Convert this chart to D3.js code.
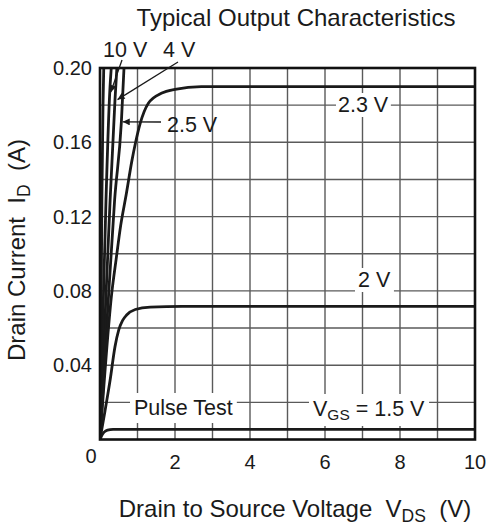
<!DOCTYPE html>
<html><head><meta charset="utf-8">
<script src="https://cdn.jsdelivr.net/npm/d3@7"></script>
<style>
body{margin:0;background:#fff}
text{font-family:"Liberation Sans",Arial,Helvetica,sans-serif;fill:#1a1a1a}
</style>
</head><body>
<svg id="chart" width="488" height="526"></svg>
<script>
// ---------- data ----------
const chartTitle = "Typical Output Characteristics";
const xTickValues = [0, 2, 4, 6, 8, 10];
const xTickLabels = ["0", "2", "4", "6", "8", "10"];
const yTickValues = [0.04, 0.08, 0.12, 0.16, 0.20];
const yTickLabels = ["0.04", "0.08", "0.12", "0.16", "0.20"];

// V_DS (V), I_D (A) pairs per gate voltage
const curveVgs1_5 = [[0,0],[0.04,0.0018],[0.08,0.0032],[0.13,0.0043],[0.2,0.005],[0.35,0.0054],[0.7,0.0055],[10,0.0055]];
const curveVgs2   = [[0,0],[0.13,0.015],[0.27,0.032],[0.4,0.050],[0.5,0.059],[0.6,0.064],[0.71,0.067],[0.94,0.0700],[1.34,0.0713],[2.2,0.0717],[10,0.0717]];
const curveVgs2_3 = [[0,0],[0.32,0.080],[0.43,0.097],[0.55,0.115],[0.7,0.132],[0.85,0.150],[0.95,0.160],[1.07,0.170],[1.29,0.181],[1.65,0.1865],[2.0,0.1885],[2.7,0.1900],[10,0.1900]];
const curveVgs2_5 = [[0,0],[0.2,0.068],[0.39,0.129],[0.57,0.171],[0.64,0.2]];
const curveVgs4   = [[0,0],[0.14,0.068],[0.27,0.129],[0.40,0.183],[0.45,0.2]];
const curveVgs10  = [[0,0],[0.08,0.068],[0.16,0.129],[0.26,0.187],[0.3,0.2]];
const curveVgsMax = [[0,0],[0.03,0.068],[0.05,0.129],[0.08,0.18],[0.1,0.2]];

const curves = [curveVgs1_5, curveVgs2, curveVgs2_3, curveVgs2_5, curveVgs4, curveVgs10, curveVgsMax];

// ---------- layout ----------
const svg = d3.select("#chart");
const L = 100, R = 475, T = 68, B = 439.5;
const x = d3.scaleLinear().domain([0, 10]).range([L, R]);
const y = d3.scaleLinear().domain([0, 0.2]).range([B, T]);

svg.append("rect").attr("width", 488).attr("height", 526).attr("fill", "#fff");

// grid
const grid = svg.append("g").attr("stroke", "#5a5a5a").attr("stroke-width", 1.4);
grid.selectAll("line.v").data(d3.range(1, 10)).join("line")
  .attr("x1", d => x(d)).attr("x2", d => x(d)).attr("y1", T).attr("y2", B);
grid.selectAll("line.h").data(d3.range(1, 10).map(i => i * 0.02)).join("line")
  .attr("y1", d => y(d)).attr("y2", d => y(d)).attr("x1", L).attr("x2", R);

// annotations with white backing
const labelFont = 21.5;
function label(txt, px, py, parts) {
  const t = svg.append("text").attr("x", px).attr("y", py).attr("font-size", labelFont);
  if (parts) {
    parts.forEach(p => {
      const s = t.append("tspan").text(p.t);
      if (p.sub) s.attr("font-size", labelFont * 0.72).attr("dy", 4);
      if (p.up) s.attr("dy", -4);
    });
  } else t.text(txt);
  return t;
}
function backed(t, padX, padY) {
  const bb = t.node().getBBox();
  svg.insert("rect", function(){ return t.node(); })
    .attr("x", bb.x - padX).attr("y", bb.y - padY)
    .attr("width", bb.width + 2 * padX).attr("height", bb.height + 2 * padY)
    .attr("fill", "#fff");
}

// curves
const clip = svg.append("clipPath").attr("id", "plotclip");
clip.append("rect").attr("x", L).attr("y", T).attr("width", R - L).attr("height", B - T);
const line = d3.line().x(d => x(d[0])).y(d => y(d[1])).curve(d3.curveMonotoneX);
svg.append("g").attr("clip-path", "url(#plotclip)")
  .selectAll("path").data(curves).join("path")
  .attr("d", line).attr("fill", "none").attr("stroke", "#1a1a1a")
  .attr("stroke-width", 2.8).attr("stroke-linejoin", "round");

const tPulse = label("Pulse Test", 134, 415);
backed(tPulse, 4, 3);
const tVgs = label(null, 313, 416, [{t:"V"},{t:"GS",sub:true},{t:" = 1.5 V",up:true}]);
backed(tVgs, 4, 3);
const t23 = label("2.3 V", 338, 112);
backed(t23, 2, 0);
const t2 = label("2 V", 358, 287);
backed(t2, 3, 0);
label("2.5 V", 167, 132);
label("10 V", 103, 57);
label("4 V", 163, 57);

// border
svg.append("rect").attr("x", L).attr("y", T).attr("width", R - L).attr("height", B - T)
  .attr("fill", "none").attr("stroke", "#111").attr("stroke-width", 2.6);

// arrows
const defs = svg.append("defs");
defs.append("marker").attr("id", "ah").attr("viewBox", "0 0 10 10")
  .attr("refX", 10).attr("refY", 5).attr("markerWidth", 9).attr("markerHeight", 7)
  .attr("markerUnits", "userSpaceOnUse").attr("orient", "auto")
  .append("path").attr("d", "M0,0 L10,5 L0,10 z").attr("fill", "#1a1a1a");
const arrows = [
  {x1: 122, y1: 60, tx: 0.26, ty: 0.187},
  {x1: 178, y1: 62, tx: 0.44, ty: 0.183},
  {x1: 161, y1: 122, tx: 0.58, ty: 0.171}
];
svg.selectAll("line.arr").data(arrows).join("line")
  .attr("x1", d => d.x1).attr("y1", d => d.y1)
  .attr("x2", d => x(d.tx) + 1).attr("y2", d => y(d.ty))
  .attr("stroke", "#1a1a1a").attr("stroke-width", 1.3).attr("marker-end", "url(#ah)");

// tick labels
svg.selectAll("text.xt").data(xTickValues.slice(1)).join("text")
  .attr("x", d => x(d)).attr("y", 469).attr("text-anchor", "middle")
  .attr("font-size", 20).text((d, i) => xTickLabels[i + 1]);
svg.append("text").attr("x", 91).attr("y", 463).attr("text-anchor", "middle")
  .attr("font-size", 20).text(xTickLabels[0]);
svg.selectAll("text.yt").data(yTickValues).join("text")
  .attr("x", 92).attr("y", d => y(d) + 7).attr("text-anchor", "end")
  .attr("font-size", 20).text((d, i) => yTickLabels[i]);

// titles
svg.append("text").attr("x", 296).attr("y", 26).attr("text-anchor", "middle")
  .attr("font-size", 24).text(chartTitle);

const xt = svg.append("text").attr("x", 295).attr("y", 517).attr("text-anchor", "middle").attr("font-size", 24);
xt.append("tspan").text("Drain to Source Voltage\u00a0\u00a0V");
xt.append("tspan").text("DS").attr("font-size", 17.5).attr("dy", 5);
xt.append("tspan").text("\u00a0\u00a0(V)").attr("dy", -5);

const yt = svg.append("text").attr("transform", "translate(25,250) rotate(-90)")
  .attr("text-anchor", "middle").attr("font-size", 24);
yt.append("tspan").text("Drain Current\u00a0\u00a0I");
yt.append("tspan").text("D").attr("font-size", 17.5).attr("dy", 5);
yt.append("tspan").text("\u00a0\u00a0(A)").attr("dy", -5);
</script>
</body></html>
